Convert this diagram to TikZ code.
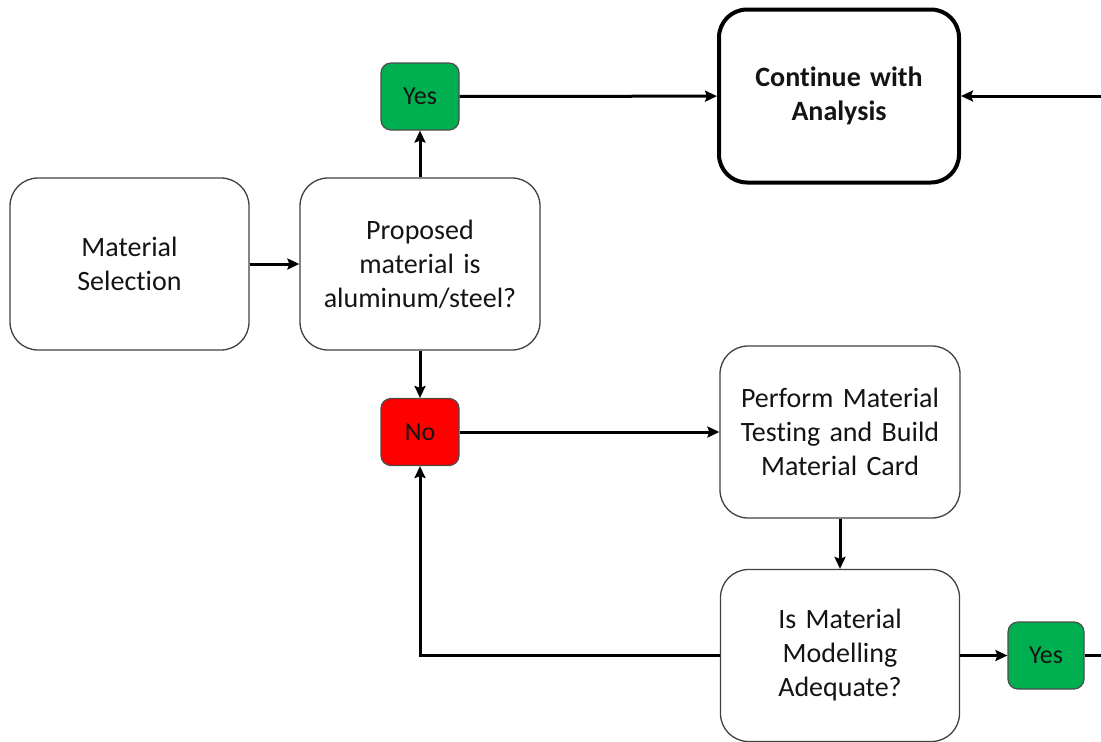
\documentclass[tikz,border=0pt]{standalone}
\usepackage{fontspec}
\setmainfont{Carlito}[Ligatures={NoCommon,NoRequired,NoContextual}]
\usetikzlibrary{arrows.meta}
\definecolor{okgreen}{RGB}{0,176,80}
\definecolor{nored}{RGB}{255,0,0}
\definecolor{txt}{RGB}{20,20,20}
\begin{document}
\begin{tikzpicture}[x=1pt,y=-1pt,
  box/.style={draw=black!75, line width=1.3pt, rounded corners=28pt, minimum width=239pt, minimum height=172pt, align=center, text width=225pt, inner sep=0pt, text=txt, font=\fontsize{28}{34}\selectfont},
  bigbox/.style={box, draw=black, line width=4pt, font=\bfseries\fontsize{28}{34}\selectfont},
  yn/.style={draw=black!70, line width=1.2pt, rounded corners=10pt, minimum width=78pt, minimum height=67pt, inner sep=0pt, text=txt, font=\fontsize{26}{30}\selectfont},
  arr/.style={line width=3pt, draw=black, -{Stealth[length=12pt,width=11pt,inset=2pt]}},
  ln/.style={line width=3pt, draw=black}]
\useasboundingbox (0,0) rectangle (1101,742);
\node[box] (ms) at (129.5,264) {Material\\Selection};
\node[box, minimum width=240pt] (prop) at (420,264) {Proposed\\material is\\aluminum/steel?};
\node[yn, fill=okgreen] (yes1) at (420,96.5) {Yes};
\node[bigbox, minimum width=240pt, minimum height=173pt] (cont) at (839,96) {Continue with\\Analysis};
\node[yn, fill=nored] (no) at (420,432) {No};
\node[box, minimum width=240pt] (perf) at (840,432) {Perform Material\\Testing and Build\\Material Card};
\node[box] (ism) at (840,655.5) {Is Material\\Modelling\\Adequate?};
\node[yn, fill=okgreen, minimum width=76pt] (yes2) at (1046,655.5) {Yes};
\coordinate (re1) at (1101,96);
\coordinate (re2) at (1101,655.5);
\draw[arr] (ms) -- (prop);
\draw[arr] (prop) -- (yes1);
\draw[arr] (yes1) -- (cont);
\draw[arr] (re1) -- (cont);
\draw[arr] (prop) -- (no);
\draw[arr] (no) -- (perf);
\draw[arr] (perf) -- (ism);
\draw[arr] (ism.west) -| (no.south);
\draw[arr] (ism) -- (yes2);
\draw[ln] (yes2) -- (re2);
\end{tikzpicture}
\end{document}
